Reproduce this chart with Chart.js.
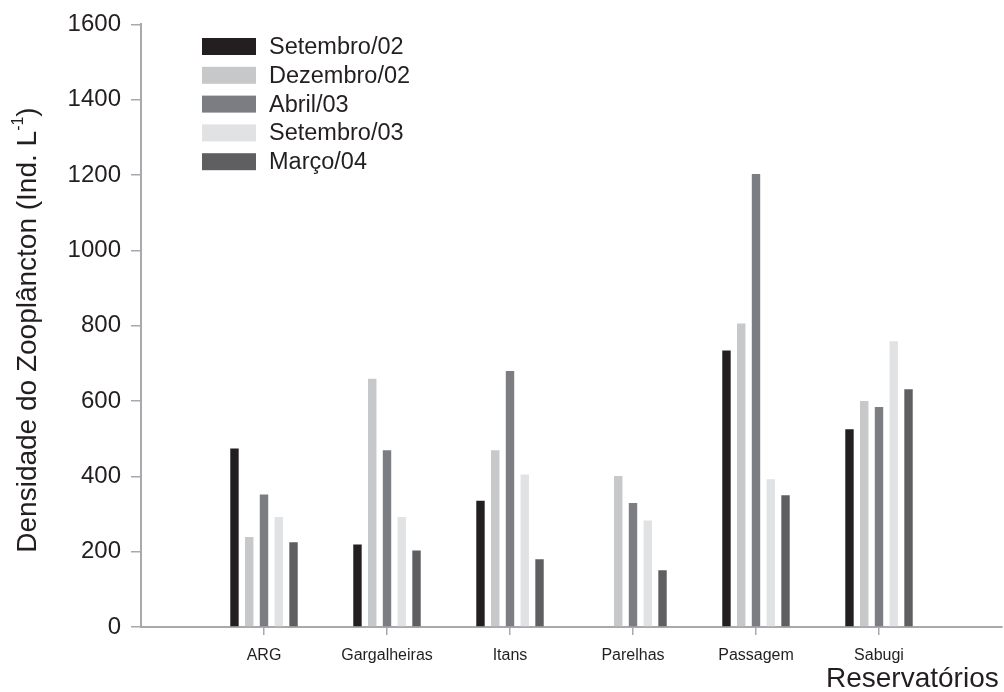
<!DOCTYPE html>
<html>
<head>
<meta charset="utf-8">
<script src="https://cdn.jsdelivr.net/npm/chart.js@4/dist/chart.umd.min.js"></script>
<style>
  html, body { margin: 0; padding: 0; background: #ffffff; }
  #wrap { width: 1004px; height: 692px; position: relative; }
</style>
</head>
<body>
<div id="wrap"><canvas id="c" width="1004" height="692"></canvas></div>
<script>
// ---- data ----
const categories = ['ARG', 'Gargalheiras', 'Itans', 'Parelhas', 'Passagem', 'Sabugi'];
const seriesNames = ['Setembro/02', 'Dezembro/02', 'Abril/03', 'Setembro/03', 'Março/04'];
const setembro02 = [474, 219, 335, 0, 734, 525];
const dezembro02 = [239, 659, 469, 401, 806, 600];
const abril03    = [352, 469, 680, 329, 1203, 584];
const setembro03 = [292, 292, 405, 283, 392, 759];
const marco04    = [225, 203, 180, 151, 350, 631];
const yTicks = [0, 200, 400, 600, 800, 1000, 1200, 1400, 1600];
const yTitle = 'Densidade do Zooplâncton (Ind. L';
const yTitleSup = '-1';
const yTitleEnd = ')';
const xTitle = 'Reservatórios';

// ---- styles ----
const colors = ['#231f20', '#c7c8ca', '#7c7d82', '#e1e2e4', '#5f5f62'];
const axisColor = '#a7a9ac';
const textColor = '#231f20';
const FONT = "'Liberation Sans', Arial, sans-serif";

// padded categories: empty slot at both ends so the axis spans 0..7
const labels = [''].concat(categories, ['']);
const pad = arr => [null].concat(arr, [null]);
const seriesValues = [setembro02, dezembro02, abril03, setembro03, marco04];

const datasets = seriesValues.map((vals, i) => ({
  label: seriesNames[i],
  data: pad(vals),
  backgroundColor: colors[i],
  borderWidth: 0,
  categoryPercentage: 0.6,
  barPercentage: 0.57
}));

const customDraw = {
  id: 'customDraw',
  afterDraw(chart) {
    const ctx = chart.ctx;
    ctx.save();
    // legend
    ctx.font = '23.5px ' + FONT;
    ctx.textBaseline = 'middle';
    ctx.textAlign = 'left';
    chart.data.datasets.forEach((ds, i) => {
      const cy = 46.5 + i * 28.8;
      ctx.fillStyle = ds.backgroundColor;
      ctx.fillRect(202, cy - 8.5, 54, 17);
      ctx.fillStyle = textColor;
      ctx.fillText(ds.label, 269, cy + 1);
    });
    // y title (rotated) with superscript
    const mainFont = '28px ' + FONT;
    const supFont = '16px ' + FONT;
    ctx.font = mainFont;
    const w1 = ctx.measureText(yTitle).width;
    const w3 = ctx.measureText(yTitleEnd).width;
    ctx.font = supFont;
    const w2 = ctx.measureText(yTitleSup).width;
    const total = w1 + w2 + w3;
    ctx.translate(36, 330);
    ctx.rotate(-Math.PI / 2);
    ctx.textBaseline = 'alphabetic';
    ctx.fillStyle = textColor;
    let x = -total / 2;
    ctx.font = mainFont;
    ctx.fillText(yTitle, x, 0);
    x += w1;
    ctx.font = supFont;
    ctx.fillText(yTitleSup, x, -13);
    x += w2;
    ctx.font = mainFont;
    ctx.fillText(yTitleEnd, x, 0);
    ctx.restore();
    // x title
    ctx.save();
    ctx.font = '28px ' + FONT;
    ctx.fillStyle = textColor;
    ctx.textAlign = 'left';
    ctx.textBaseline = 'alphabetic';
    ctx.fillText(xTitle, 826, 687);
    ctx.restore();
  }
};

new Chart(document.getElementById('c'), {
  type: 'bar',
  data: { labels: labels, datasets: datasets },
  options: {
    responsive: false,
    animation: false,
    devicePixelRatio: 1,
    layout: { padding: { top: 24, right: 2, left: 0, bottom: 0 } },
    plugins: { legend: { display: false }, tooltip: { enabled: false } },
    scales: {
      x: {
        offset: false,
        grid: {
          display: true,
          drawOnChartArea: false,
          offset: false,
          tickLength: 8,
          lineWidth: 1.5,
          tickColor: (c) => (c.tick && c.tick.label === '') ? 'rgba(0,0,0,0)' : axisColor
        },
        border: { display: true, color: axisColor, width: 2 },
        ticks: {
          autoSkip: false,
          maxRotation: 0,
          padding: 11,
          color: textColor,
          font: { family: FONT, size: 16 }
        },
        afterFit: (s) => { s.height = 65; s.paddingLeft = 0; s.paddingRight = 0; }
      },
      y: {
        min: 0,
        max: 1600,
        afterBuildTicks: (s) => { s.ticks = yTicks.map(v => ({ value: v })); },
        grid: {
          display: true,
          drawOnChartArea: false,
          tickLength: 10,
          lineWidth: 1.5,
          tickColor: axisColor
        },
        border: { display: true, color: axisColor, width: 2 },
        ticks: {
          padding: 10,
          color: textColor,
          font: { family: FONT, size: 24 },
          callback: (v) => String(v)
        },
        afterFit: (s) => { s.width = 141; }
      }
    }
  },
  plugins: [customDraw]
});
</script>
</body>
</html>
